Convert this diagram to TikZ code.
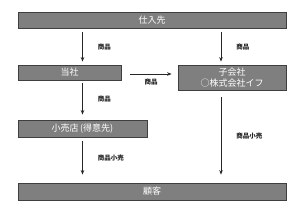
\documentclass[tikz,border=0pt]{standalone}
\usepackage{fontspec}
\setmainfont{Noto Sans CJK JP}
\usetikzlibrary{arrows.meta,positioning,calc}
\usepackage{xcolor}
\definecolor{boxfill}{HTML}{7F7F7F}
\definecolor{boxline}{HTML}{3F3F3F}

\begin{document}
\begin{tikzpicture}[x=1pt, y=-1pt,
      bar/.style={fill=boxfill, draw=boxline, line width=0.8pt, inner sep=0pt,
                  align=center, text=white, font=\fontsize{9}{11}\selectfont},
      flow/.style={-{Stealth[length=4.5pt, width=3.5pt]}, line width=0.9pt, black!85},
      tag/.style={font=\fontsize{6.5}{7}\selectfont\bfseries, inner sep=1pt}
    ]
      \useasboundingbox (0,0) rectangle (300,207);

      \node[bar, minimum width=268pt, minimum height=16pt] (supplier) at (152,20) {仕入先};
      \node[bar, minimum width=103pt, minimum height=15pt] (tosha) at (69.5,72.5) {当社};
      \node[bar, minimum width=108pt, minimum height=25pt] (subsid) at (232,77.5)
        {子会社\\[0pt]○株式会社イフ};
      \node[bar, minimum width=129pt, minimum height=17pt] (retail) at (82.5,128.5) {小売店\,(得意先)};
      \node[bar, minimum width=268pt, minimum height=17pt] (customer) at (152,191.5) {顧客};
      \coordinate (rline) at ([xshift=-11pt]subsid.south);

      % goods flow
      \draw[flow] ([yshift=-4pt]supplier.south -| retail.north) -- ([yshift=3pt]tosha.north -| retail.north)
        node[midway, right=14pt, tag] {商品};
      \draw[flow] ([yshift=-4pt]supplier.south -| rline) -- ([yshift=3pt]subsid.north -| rline)
        node[midway, right=14pt, tag] {商品};
      \draw[flow] ([xshift=9pt, yshift=-1.5pt]tosha.east) -- ([xshift=-6pt, yshift=3.5pt]subsid.west)
        node[midway, below=3pt, tag] {商品};
      \draw[flow] ([yshift=-3pt]tosha.south -| retail.north) -- ([yshift=5pt]retail.north)
        node[midway, right=14pt, tag] {商品};

      % retail sales
      \draw[flow] ([yshift=-4pt]retail.south) -- ([yshift=8pt]customer.north -| retail.south)
        node[midway, right=14pt, tag] {商品小売};
      \draw[flow] ([yshift=-7pt]rline) -- ([yshift=8pt]customer.north -| rline)
        node[midway, right=14pt, tag] {商品小売};
    \end{tikzpicture}
\end{document}
